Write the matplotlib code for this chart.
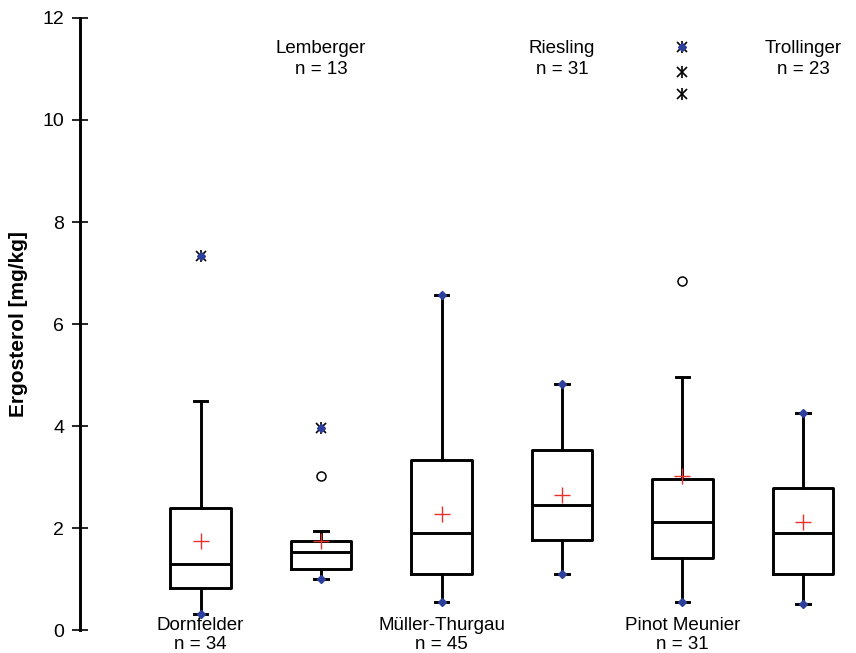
import numpy as np
import matplotlib

matplotlib.use("Agg")
import matplotlib.pyplot as plt

plt.rcParams["font.family"] = ["Liberation Sans", "DejaVu Sans"]

varieties = ["Dornfelder", "Lemberger", "Müller-Thurgau", "Riesling", "Pinot Meunier", "Trollinger"]
counts = [34, 13, 45, 31, 31, 23]
whislo = [0.31, 1.00, 0.55, 1.10, 0.55, 0.51]
q1 = [0.82, 1.20, 1.10, 1.77, 1.41, 1.10]
medians = [1.29, 1.53, 1.90, 2.45, 2.12, 1.90]
q3 = [2.39, 1.75, 3.33, 3.53, 2.96, 2.78]
whishi = [4.50, 1.94, 6.57, 4.82, 4.97, 4.25]
means = [1.75, 1.75, 2.27, 2.65, 3.03, 2.12]
minimums = [0.31, 1.00, 0.55, 1.10, 0.55, 0.51]
maximums = [7.33, 3.96, 6.57, 4.82, 11.43, 4.25]
# outliers (open circles) and extremes (asterisks), per variety index
outlier_idx = [1, 4]
outlier_val = [3.02, 6.84]
extreme_idx = [0, 1, 4, 4, 4]
extreme_val = [7.33, 3.96, 11.43, 10.94, 10.51]

blue = "#2c3f9c"
positions = np.arange(1, len(varieties) + 1)

fig = plt.figure(figsize=(8.56, 6.53), dpi=100)
ax = fig.add_axes([0.0935, 0.035, 0.9065, 0.9375])

stats = []
for i in range(len(varieties)):
    stats.append(dict(whislo=whislo[i], q1=q1[i], med=medians[i], q3=q3[i],
                      whishi=whishi[i], fliers=[]))
ax.bxp(stats, positions=positions, widths=0.5, capwidths=0.11,
       showfliers=False, manage_ticks=False,
       boxprops=dict(color="black", linewidth=2.1),
       medianprops=dict(color="black", linewidth=2.1),
       whiskerprops=dict(color="black", linewidth=2.1),
       capprops=dict(color="black", linewidth=2.1))

# means
ax.plot(positions, means, linestyle="none", marker="+", color="#e8312a",
        markersize=12, markeredgewidth=1.0, zorder=5)

# extremes: asterisk made of x and |
ex_x = positions[extreme_idx]
ax.plot(ex_x, extreme_val, linestyle="none", marker="x", color="black",
        markersize=7, markeredgewidth=1.2, zorder=5)
ax.plot(ex_x, extreme_val, linestyle="none", marker="|", color="black",
        markersize=9, markeredgewidth=1.2, zorder=5)

# outliers
ax.plot(positions[outlier_idx], outlier_val, linestyle="none", marker="o",
        markerfacecolor="white", markeredgecolor="black", markersize=6.5,
        markeredgewidth=1.1, zorder=5)

# min / max markers
for vals in (minimums, maximums):
    ax.plot(positions, vals, linestyle="none", marker="D", color=blue,
            markersize=4.5, zorder=6)

# variety labels alternate bottom / top
for i, (name, n) in enumerate(zip(varieties, counts)):
    if i % 2 == 0:
        y_name, y_n = 0.10, -0.29
    else:
        y_name, y_n = 11.41, 10.98
    ax.text(positions[i], y_name, name, ha="center", va="center",
            fontsize=13.5, clip_on=False)
    ax.text(positions[i], y_n, f"n = {n}", ha="center", va="center",
            fontsize=13.5, clip_on=False)

ax.set_xlim(0, 6.44)
ax.set_ylim(0, 12)
ax.set_yticks(np.arange(0, 13, 2))
ax.tick_params(axis="y", direction="inout", length=11, width=1.2,
               labelsize=14, pad=6)
ax.set_xticks([])
for side in ("top", "right", "bottom"):
    ax.spines[side].set_visible(False)
ax.spines["left"].set_linewidth(2.1)
ax.set_ylabel("Ergosterol [mg/kg]", fontsize=15, fontweight="bold", labelpad=10)

fig.savefig("out.png")
